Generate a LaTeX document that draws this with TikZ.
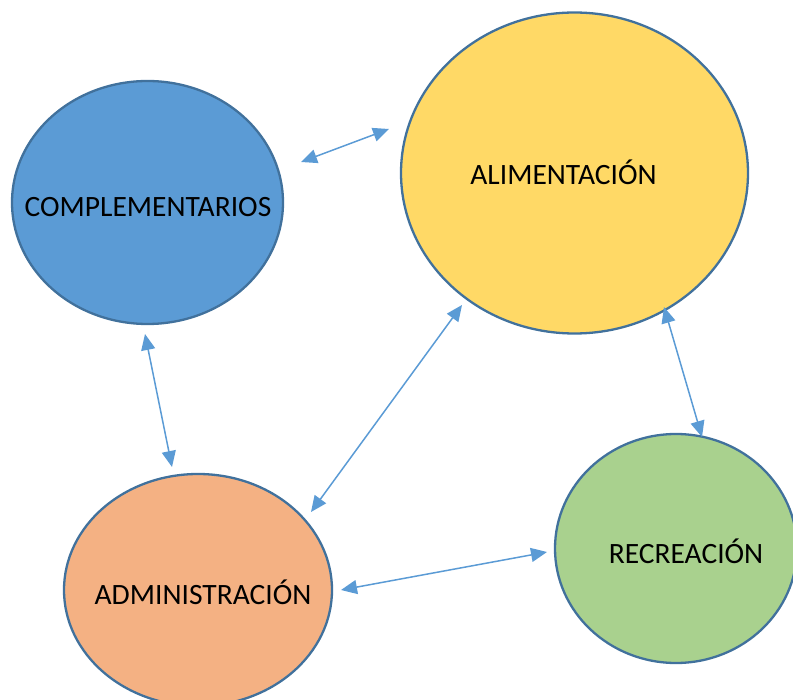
\documentclass[tikz,border=0pt]{standalone}
\usepackage{fontspec}
\setmainfont{Carlito}
\usetikzlibrary{arrows.meta,shapes.geometric}
\definecolor{outl}{HTML}{41719C}
\definecolor{arr}{HTML}{5B9BD5}
\definecolor{cblue}{HTML}{5B9BD5}
\definecolor{cyellow}{HTML}{FFD966}
\definecolor{corange}{HTML}{F4B183}
\definecolor{cgreen}{HTML}{A9D18E}
\tikzset{
  blob/.style={ellipse, draw=outl, line width=2.3pt, inner sep=0pt},
  lbl/.style={anchor=base, inner sep=0pt, font=\fontsize{29.5}{31}\selectfont, text=black},
  link/.style={draw=arr, line width=1.5pt, {Triangle[length=16pt,width=14pt]}-{Triangle[length=16pt,width=14pt]}}
}
\begin{document}
\begin{tikzpicture}[x=1pt,y=-1pt]
\useasboundingbox (0,0) rectangle (793,700);
\begin{scope}
\clip (0,0) rectangle (793,700);
\node[blob, fill=cblue, minimum width=271pt, minimum height=243pt] (comp) at (147.5,202.5) {};
\node[blob, fill=cyellow, minimum width=347pt, minimum height=321pt] (alim) at (574.5,173) {};
\node[blob, fill=corange, minimum width=268pt, minimum height=232pt] (admin) at (198,590) {};
\node[blob, fill=cgreen, minimum width=242pt, minimum height=229pt] (recre) at (676,548.5) {};
\end{scope}
\node[lbl] (tcomp) at (148,217) {COMPLEMENTARIOS};
\node[lbl] (talim) at (563.5,185) {ALIMENTACIÓN};
\node[lbl] (tadmin) at (203,604) {ADMINISTRACIÓN};
\node[lbl] (trecre) at (686,563) {RECREACIÓN};
\coordinate (c1) at (301,162);
\coordinate (a1) at (389,129);
\coordinate (c2) at (145,334);
\coordinate (d2) at (172,467);
\coordinate (a3) at (462,305);
\coordinate (d3) at (311,512);
\coordinate (a4) at (664,307);
\coordinate (r4) at (702,437);
\coordinate (d5) at (341,590);
\coordinate (r5) at (547,552);
\draw[link] (c1) -- (a1);
\draw[link] (c2) -- (d2);
\draw[link] (a3) -- (d3);
\draw[link] (a4) -- (r4);
\draw[link] (d5) -- (r5);
\end{tikzpicture}
\end{document}
